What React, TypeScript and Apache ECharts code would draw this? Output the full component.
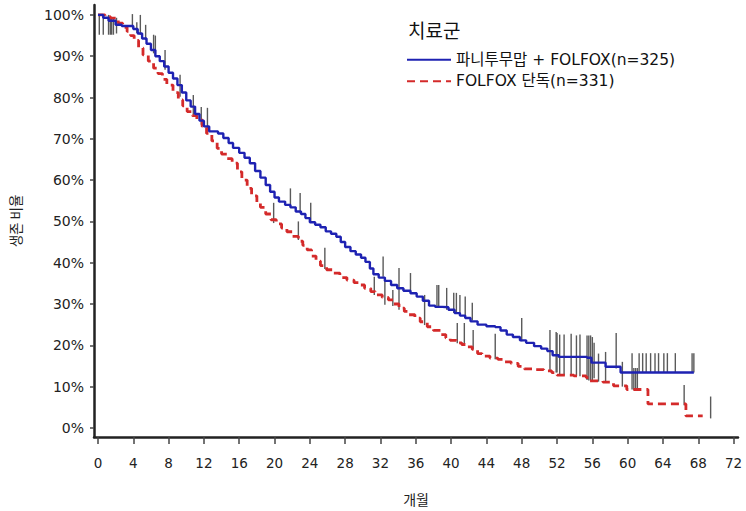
import React, { useEffect, useRef } from "react";
import * as echarts from "echarts";

const xTicks = [0, 4, 8, 12, 16, 20, 24, 28, 32, 36, 40, 44, 48, 52, 56, 60, 64, 68, 72];
const yTicks = [0, 10, 20, 30, 40, 50, 60, 70, 80, 90, 100];

const seriesNames = ["파니투무맙 + FOLFOX(n=325)", "FOLFOX 단독(n=331)"];

// [month, survival %] — value holds from this month on
const blueSteps: number[][] = [
  [0, 100], [0.6, 99.3], [1.2, 98.6], [2.0, 97.6], [2.7, 97.3], [4.0, 96.6], [4.5, 95.5],
  [5.0, 94.3], [5.5, 93.0], [6.0, 91.5], [6.5, 90.0], [7.0, 88.8], [7.5, 87.5], [8.0, 86.0],
  [8.5, 84.6], [9.0, 83.0], [9.5, 81.2], [10.0, 79.3], [10.5, 77.8], [11.0, 76.0], [11.5, 74.4],
  [12.0, 73.0], [12.6, 71.8], [13.6, 71.3], [14.2, 70.2], [14.8, 69.0], [15.3, 67.8], [16.0, 66.6],
  [16.6, 65.4], [17.2, 64.1], [17.8, 62.2], [18.4, 60.6], [19.0, 58.8], [19.5, 57.2], [20.0, 55.8],
  [20.5, 54.8], [21.2, 54.0], [21.8, 53.4], [22.4, 52.4], [23.0, 51.8], [23.5, 50.8], [24.0, 49.8],
  [24.6, 49.2], [25.2, 48.6], [25.8, 47.6], [26.4, 47.0], [27.0, 46.3], [27.5, 45.0], [28.0, 43.8],
  [28.6, 42.8], [29.2, 42.0], [29.8, 41.2], [30.3, 40.2], [30.8, 38.6], [31.2, 37.2], [31.8, 36.4],
  [32.5, 35.6], [33.2, 34.6], [33.9, 33.8], [34.6, 33.2], [35.4, 32.6], [36.1, 31.8], [36.8, 30.8],
  [37.5, 29.6], [38.2, 29.3], [39.0, 29.2], [39.7, 28.6], [40.4, 27.8], [41.0, 27.2], [41.6, 26.6],
  [42.2, 25.8], [43.0, 25.0], [44.0, 24.6], [45.0, 24.4], [45.6, 23.6], [46.3, 22.6], [47.0, 22.0],
  [47.8, 21.2], [48.5, 20.6], [49.4, 19.8], [50.2, 19.2], [50.9, 18.6], [51.5, 17.6], [52.2, 17.2],
  [55.4, 17.0], [55.9, 15.8], [57.5, 14.8], [59.2, 13.4], [67.5, 13.4],
];

const redSteps: number[][] = [
  [0, 100], [0.8, 99.6], [1.4, 99.2], [2.3, 98.0], [2.8, 97.0], [3.3, 96.0], [3.7, 95.0],
  [4.1, 93.8], [4.6, 92.0], [5.1, 90.3], [5.7, 88.8], [6.3, 87.1], [6.8, 85.8], [7.3, 84.4],
  [7.8, 83.0], [8.5, 81.2], [9.1, 79.4], [9.6, 78.0], [10.1, 76.6], [10.7, 75.6], [11.2, 74.6],
  [11.8, 73.0], [12.3, 71.3], [12.9, 69.5], [13.5, 67.7], [14.0, 66.3], [14.6, 65.2], [15.2, 64.1],
  [15.8, 62.0], [16.3, 60.0], [16.9, 58.0], [17.4, 56.2], [18.0, 54.6], [18.4, 53.4], [19.0, 51.8],
  [19.6, 50.4], [20.2, 49.4], [20.8, 48.4], [21.4, 47.5], [22.0, 46.4], [22.7, 45.2], [23.2, 44.2],
  [23.7, 43.1], [24.2, 41.6], [24.7, 40.4], [25.2, 39.3], [25.9, 38.3], [26.7, 37.5], [27.4, 36.4],
  [28.2, 35.8], [29.0, 35.2], [29.7, 34.6], [30.2, 33.8], [30.9, 33.0], [31.4, 32.2], [32.2, 31.6],
  [32.9, 31.0], [33.5, 30.0], [34.1, 29.0], [34.7, 28.2], [35.2, 27.4], [35.9, 26.6], [36.5, 25.7],
  [37.3, 24.5], [38.0, 23.6], [38.8, 22.6], [39.4, 21.8], [39.9, 21.2], [40.6, 20.6], [41.2, 20.2],
  [41.8, 19.6], [42.4, 19.0], [43.0, 18.0], [43.5, 17.4], [44.4, 16.9], [45.3, 16.6], [46.1, 16.0],
  [46.8, 15.6], [47.6, 14.9], [48.3, 14.3], [49.3, 14.1], [50.5, 13.8], [51.4, 13.4], [52.0, 12.8],
  [53.9, 12.6], [55.3, 12.2], [55.6, 11.4], [57.2, 11.1], [58.4, 10.2], [59.9, 9.3], [62.3, 5.8],
  [66.6, 2.9], [68.5, 2.9],
];

// censoring marks: [month, lower %, upper %]
const censorMarks: number[][] = [
  [0.15, 95.2, 100], [0.6, 95.2, 100], [1.2, 95.2, 100], [1.4, 95.2, 99.5], [1.55, 95.2, 99.5],
  [1.75, 95.2, 99.3], [2.1, 95.5, 99.3],
  [3.9, 97.0, 100.2], [4.4, 95.6, 98.2], [4.8, 95.2, 100], [5.4, 93.9, 97.6], [6.3, 90.7, 95.2],
  [6.5, 90.5, 95.0], [7.6, 86.7, 91.5], [9.3, 80.2, 85.5], [10.8, 75.8, 80.6], [11.7, 73.4, 77.7],
  [12.4, 71.7, 77.5],
  [19.9, 49.6, 54.5], [21.8, 53.6, 58], [22.9, 52, 56.9], [22.7, 45.5, 50], [24.1, 49.6, 54.5],
  [25.7, 38.5, 43.6],
  [31.3, 32.2, 36.6], [32.3, 36.6, 41.5], [32.5, 29.8, 35.8], [33.4, 29.5, 33.4], [34.1, 28.6, 38.7],
  [35.4, 33, 37.5], [37, 24.9, 32.2], [38.4, 29.4, 34.6], [38.6, 29.4, 34.6], [39.5, 28.6, 33.9],
  [40.3, 27.8, 32.7], [40.6, 27.8, 32.7], [41.0, 27.4, 32.2], [41.6, 27.1, 31.8], [42.4, 26.0, 30.3],
  [40.7, 20.5, 25.4], [41.5, 20.3, 25.4], [42.5, 19.0, 23.7], [45, 16.6, 22.8],
  [48, 21, 26.6], [51.2, 13.6, 23.7], [51.9, 13.4, 23.2], [52.0, 13.4, 23.0], [52.3, 12.8, 22.6],
  [52.8, 12.7, 22.6], [53.6, 12.7, 22.8], [54.2, 12.6, 22.4], [54.6, 12.5, 22.6], [55.4, 11.6, 22.4],
  [55.6, 11.5, 22.4], [55.8, 11.5, 22.4], [56.0, 11.4, 22.0], [56.2, 12.0, 20.6], [56.7, 11.2, 18.0],
  [57.5, 11.1, 18.4], [58.7, 14.4, 23.0], [59.4, 10.0, 16.0], [60.5, 9.3, 18.1], [60.7, 9.2, 14.5],
  [60.9, 9.2, 14.5], [61.1, 9.2, 14.5], [61.3, 13.4, 18.1], [61.7, 13.4, 18.1], [62.1, 13.4, 18.1],
  [62.6, 13.4, 18.1], [63.1, 13.4, 18.1], [63.5, 13.4, 18.1], [64.1, 13.4, 18.1], [64.5, 13.4, 18.1],
  [65.4, 13.4, 18.1], [67.3, 13.4, 18.1], [67.5, 13.4, 18.1], [66.4, 5.5, 10.4], [69.4, 2.3, 7.6],
];

const FONT = "'DejaVu Sans', 'Noto Sans CJK KR', sans-serif";
const KFONT = "'Noto Sans CJK KR', 'DejaVu Sans', sans-serif";

export default function App() {
  const ref = useRef<HTMLDivElement>(null);
  useEffect(() => {
    if (!ref.current) return;
    const chart = echarts.init(ref.current, undefined, { renderer: "svg" });
    chart.setOption({
      animation: false,
      backgroundColor: "#ffffff",
      textStyle: { fontFamily: FONT },
      title: {
        text: "치료군",
        left: 403,
        top: 15,
        textStyle: { fontSize: 19, fontWeight: "normal", color: "#111", fontFamily: KFONT },
      },
      legend: {
        data: seriesNames,
        orient: "vertical",
        left: 401,
        top: 47,
        itemWidth: 44,
        itemHeight: 12,
        itemGap: 6,
        itemStyle: { opacity: 0 },
        textStyle: { fontSize: 15.5, color: "#111", fontFamily: FONT },
      },
      grid: { left: 94, right: 8, top: 5, bottom: 74, containLabel: false },
      xAxis: {
        type: "value",
        min: -0.45,
        max: 72.5,
        name: "개월",
        nameLocation: "middle",
        nameGap: 55,
        nameTextStyle: { fontSize: 14, color: "#222", fontFamily: KFONT },
        axisLine: { show: true, onZero: false, lineStyle: { color: "#222", width: 2.5 } },
        axisTick: { show: true, length: 7, customValues: xTicks, lineStyle: { color: "#444", width: 1.5 } },
        axisLabel: { customValues: xTicks, margin: 19, fontSize: 13.5, color: "#222", fontFamily: FONT },
        splitLine: { show: false },
      },
      yAxis: {
        type: "value",
        min: -2.2,
        max: 102.4,
        name: "생존 비율",
        nameLocation: "middle",
        nameGap: 72,
        nameTextStyle: { fontSize: 13.5, color: "#222", fontFamily: KFONT },
        axisLine: { show: true, onZero: false, lineStyle: { color: "#222", width: 2.5 } },
        axisTick: { show: true, length: 4, customValues: yTicks, lineStyle: { color: "#444", width: 1.5 } },
        axisLabel: {
          customValues: yTicks,
          margin: 10,
          fontSize: 14,
          color: "#222",
          fontFamily: FONT,
          formatter: (v: number) => `${v}%`,
        },
        splitLine: { show: false },
      },
      series: [
        {
          type: "custom",
          name: "censor",
          z: 1,
          silent: true,
          encode: { x: 0, y: [1, 2] },
          data: censorMarks,
          renderItem: (_params: any, api: any) => {
            const p1 = api.coord([api.value(0), api.value(1)]);
            const p2 = api.coord([api.value(0), api.value(2)]);
            return {
              type: "line",
              shape: { x1: p1[0], y1: p1[1], x2: p2[0], y2: p2[1] },
              style: { stroke: "#5a5a5a", lineWidth: 1.4 },
            };
          },
        },
        {
          type: "line",
          name: seriesNames[1],
          step: "end",
          z: 2,
          symbol: "none",
          data: redSteps,
          color: "#d42a2a",
          lineStyle: { color: "#d42a2a", width: 2.8, type: [8, 5] },
        },
        {
          type: "line",
          name: seriesNames[0],
          step: "end",
          z: 3,
          symbol: "none",
          data: blueSteps,
          color: "#1e22b2",
          lineStyle: { color: "#1e22b2", width: 2.4 },
        },
      ],
    });
    return () => chart.dispose();
  }, []);
  return (
    <div
      ref={ref}
      style={{ position: "absolute", left: 0, top: 0, width: 746, height: 511, background: "#fff" }}
    />
  );
}
